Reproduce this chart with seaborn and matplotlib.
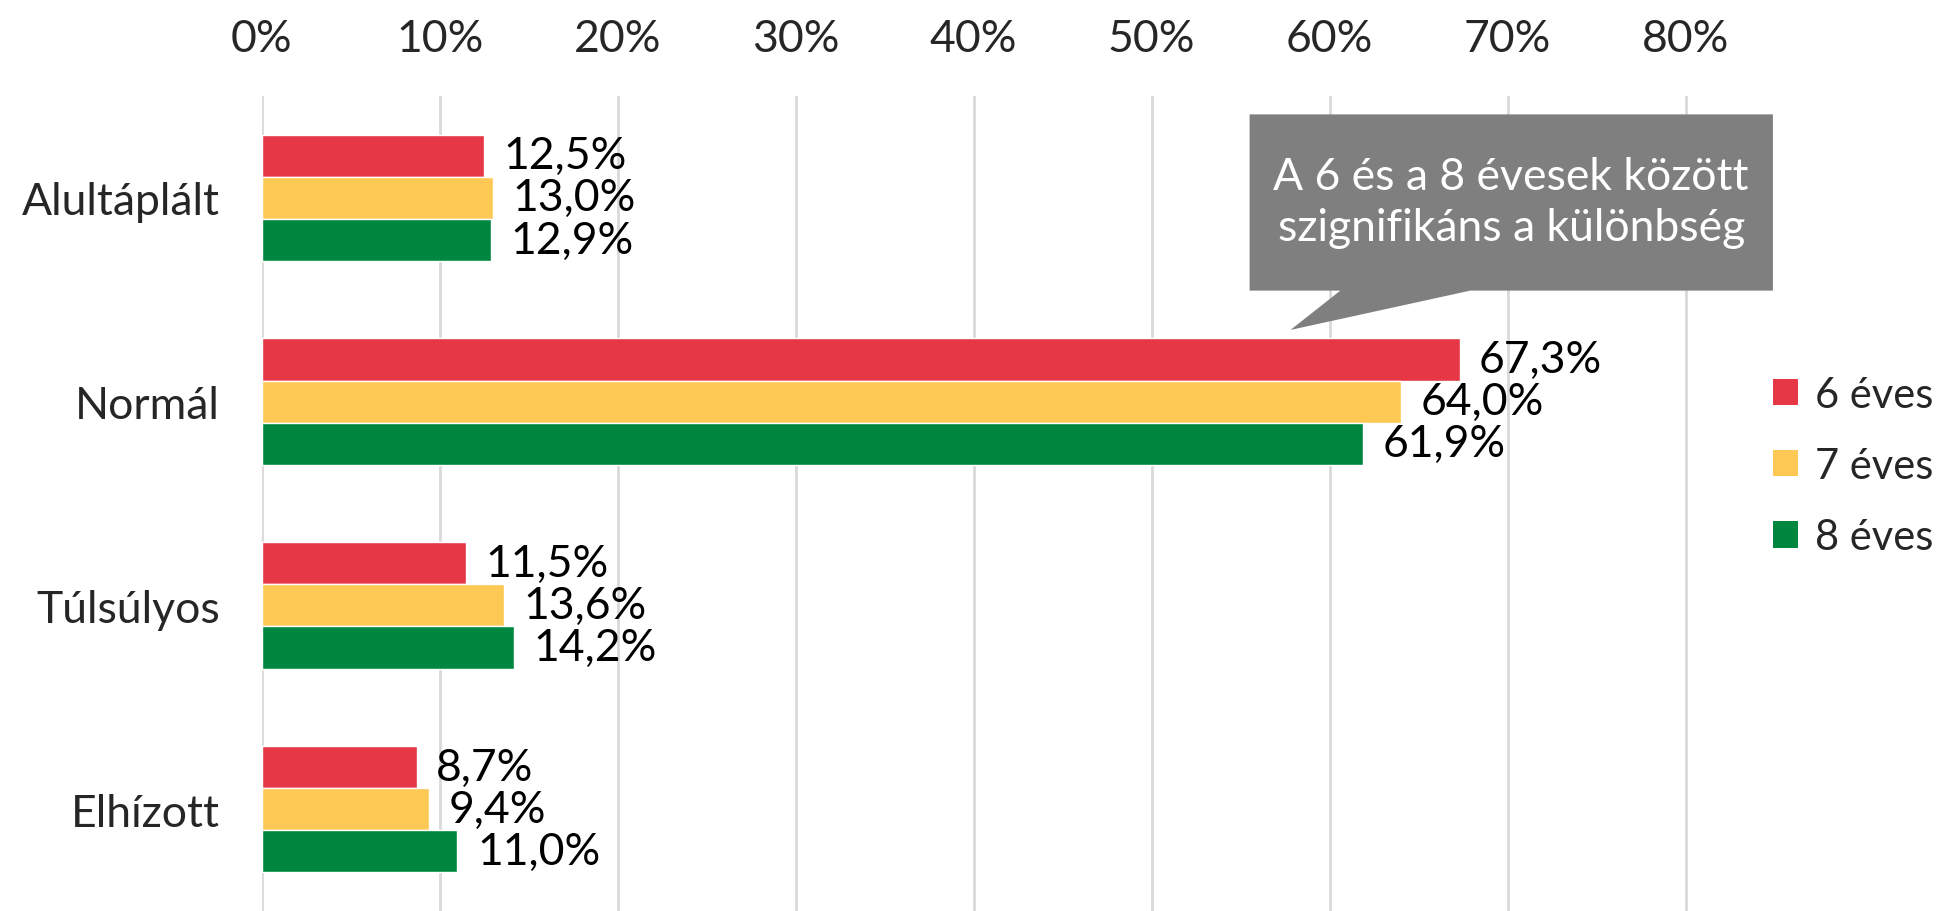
import numpy as np
import pandas as pd
import matplotlib
matplotlib.use("Agg")
import matplotlib.pyplot as plt
from matplotlib.patches import Polygon, Patch
import seaborn as sns

# Data
categories = ["Alultáplált", "Normál", "Túlsúlyos", "Elhízott"]
groups = ["6 éves", "7 éves", "8 éves"]
age6 = [12.5, 67.3, 11.5, 8.7]
age7 = [13.0, 64.0, 13.6, 9.4]
age8 = [12.9, 61.9, 14.2, 11.0]
xticks = [0, 10, 20, 30, 40, 50, 60, 70, 80]
colors = ["#E63747", "#FEC854", "#00873F"]
note = "A 6 és a 8 évesek között\nszignifikáns a különbség"

df = pd.DataFrame({
    "category": categories * 3,
    "group": [g for g in groups for _ in categories],
    "value": age6 + age7 + age8,
})

sns.set_theme(style="white")
plt.rcParams["font.family"] = ["Lato", "DejaVu Sans"]
FS = 32

fig = plt.figure(figsize=(19.44, 9.12), dpi=100)
ax = fig.add_axes([0.1346, 0.0, 0.7783, 0.8936])

sns.barplot(
    data=df, y="category", x="value", hue="group",
    order=categories, hue_order=groups, palette=colors,
    orient="h", width=0.62, saturation=1, legend=False, ax=ax,
)

# data labels with comma decimal separator
for cont, vals in zip(ax.containers, [age6, age7, age8]):
    ax.bar_label(cont, labels=[f"{v:.1f}%".replace(".", ",") for v in vals],
                 padding=14, fontsize=FS, color="black")

ax.set_xlim(0, 85)
ax.set_ylim(3.5, -0.5)
ax.set_xticks(xticks)
ax.set_xticklabels([f"{t}%" for t in xticks], fontsize=FS)
ax.xaxis.tick_top()
ax.tick_params(axis="x", length=0, pad=27)
ax.tick_params(axis="y", length=0, pad=30, labelsize=FS)
ax.set_xlabel("")
ax.set_ylabel("")
ax.grid(axis="x", color="#D9D9D9", linewidth=2)
ax.set_axisbelow(True)
for s in ax.spines.values():
    s.set_visible(False)

# callout box
box = Polygon(
    [(55.5, -0.41), (84.9, -0.41), (84.9, 0.455), (67.9, 0.455),
     (57.8, 0.648), (60.6, 0.455), (55.5, 0.455)],
    closed=True, facecolor="#7F7F7F", edgecolor="none", zorder=5, clip_on=False,
)
ax.add_patch(box)
ax.text(70.2, 0.02, note, ha="center", va="center", color="white",
        fontsize=FS, linespacing=1.3, zorder=6)

handles = [Patch(facecolor=c, edgecolor="none") for c in colors]
fig.legend(handles, groups, loc="center left", bbox_to_anchor=(0.893, 0.488),
           frameon=False, fontsize=30, handlelength=0.6, handleheight=0.6,
           handletextpad=0.4, labelspacing=0.8)

fig.savefig("out.png", dpi=100)
